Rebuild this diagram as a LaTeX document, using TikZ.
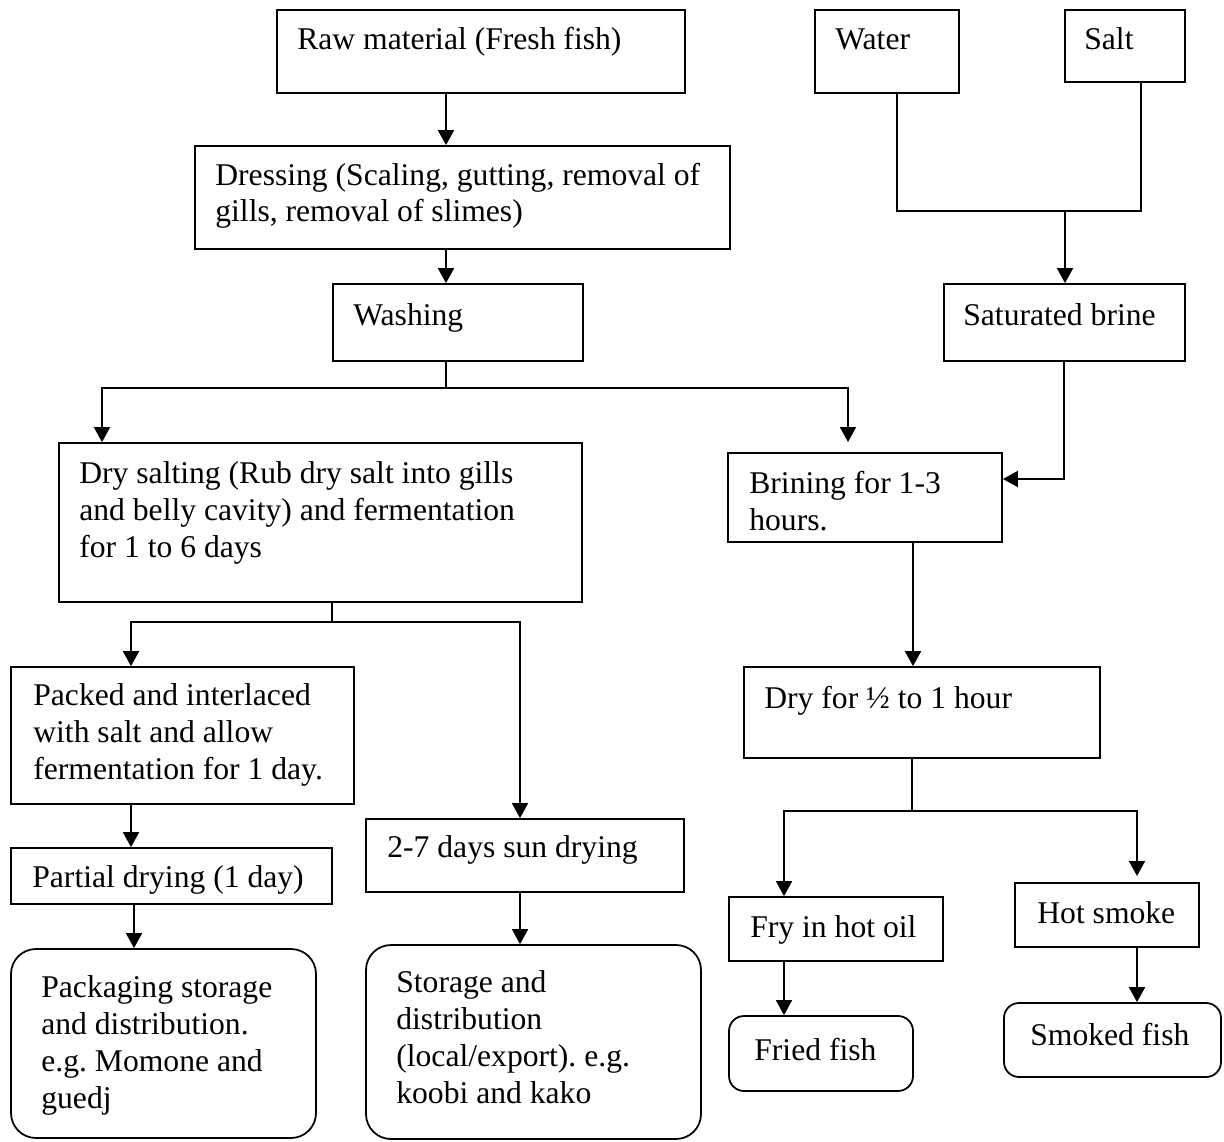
\documentclass[tikz,border=0pt]{standalone}
\usepackage{fontspec}
\setmainfont{Liberation Serif}
\frenchspacing
\usetikzlibrary{arrows.meta,fit}
\tikzset{
  stage/.style={draw, rectangle, line width=1pt, inner sep=0pt},
  product/.style={stage, rounded corners=0.5cm},
  productsm/.style={stage, rounded corners=0.3cm},
  txt/.style={anchor=base west, inner sep=0pt, align=left, font=\fontsize{18}{21}\selectfont},
  ln/.style={line width=1pt},
  arr/.style={line width=1pt, -{Triangle[width=0.32cm,length=0.3cm]}}
}
\begin{document}
\begin{tikzpicture}[x=0.02cm, y=-0.02cm]
    \useasboundingbox (0,0) rectangle (1224,1142);

    \node[stage, fit={(277,10) (685,93)}] (raw) {};
    \node[stage, fit={(815,10) (959,93)}] (water) {};
    \node[stage, fit={(1065,10) (1185,82)}] (salt) {};
    \node[stage, fit={(195,146) (730,249)}] (dress) {};
    \node[stage, fit={(333,284) (583,361)}] (wash) {};
    \node[stage, fit={(944,284) (1185,361)}] (brine) {};
    \node[stage, fit={(59,443) (582,602)}] (drysalt) {};
    \node[stage, fit={(728,453) (1002,542)}] (brining) {};
    \node[stage, fit={(11,667) (354,804)}] (packed) {};
    \node[stage, fit={(11,848) (332,904)}] (partial) {};
    \node[stage, fit={(366,819) (684,892)}] (sun) {};
    \node[stage, fit={(744,667) (1100,758)}] (dryfor) {};
    \node[stage, fit={(729,897) (943,961)}] (fry) {};
    \node[stage, fit={(1015,883) (1199,947)}] (smoke) {};
    \node[product, fit={(11,949) (316,1138)}] (pack) {};
    \node[product, fit={(366,945) (701,1139)}] (store) {};
    \node[productsm, fit={(729,1016) (913,1091)}] (fried) {};
    \node[productsm, fit={(1004,1003) (1221,1077)}] (smoked) {};

    \node[txt] (rawt) at (297,50) {Raw material (Fresh fish)};
    \node[txt] (watert) at (835,50) {Water};
    \node[txt] (saltt) at (1084,50) {Salt};
    \node[txt] (dresst) at (215,222) {Dressing (Scaling, gutting, removal of\\gills, removal of slimes)};
    \node[txt] (washt) at (353,325) {Washing};
    \node[txt] (brinet) at (963,325) {Saturated brine};
    \node[txt] (drysaltt) at (79,557) {Dry salting (Rub dry salt into gills\\and belly cavity) and fermentation\\for 1 to 6 days};
    \node[txt] (briningt) at (749,530) {Brining for 1-3\\hours.};
    \node[txt] (packedt) at (33,779) {Packed and interlaced\\with salt and allow\\fermentation for 1 day.};
    \node[txt] (partialt) at (32,887) {Partial drying (1 day)};
    \node[txt] (sunt) at (387,857) {2-7 days sun drying};
    \node[txt] (dryfort) at (764,708) {Dry for ½ to 1 hour};
    \node[txt] (fryt) at (750,937) {Fry in hot oil};
    \node[txt] (smoket) at (1037,923) {Hot smoke};
    \node[txt] (packt) at (41,1108) {Packaging storage\\and distribution.\\e.g. Momone and\\guedj};
    \node[txt] (storet) at (396,1103) {Storage and\\distribution\\(local/export). e.g.\\koobi and kako};
    \node[txt] (friedt) at (754,1060) {Fried fish};
    \node[txt] (smokedt) at (1030,1045) {Smoked fish};

    \coordinate (j1) at (446,388);
    \coordinate (j2) at (102,0);
    \coordinate (j3) at (848,442);
    \coordinate (j4) at (897,211);
    \coordinate (j5) at (1141,0);
    \coordinate (j6) at (1065,211);
    \coordinate (j7) at (1064,479);
    \coordinate (j8) at (913,0);
    \coordinate (j9) at (912,811);
    \coordinate (j10) at (784,0);
    \coordinate (j11) at (1137,876);
    \coordinate (j12) at (332,622);
    \coordinate (j13) at (131,0);
    \coordinate (j14) at (520,0);
    \coordinate (j15) at (134,0);

    \draw[arr] (raw.south -| j1) -- (dress.north -| j1);
    \draw[arr] (dress.south -| j1) -- (wash.north -| j1);
    \draw[ln] (wash.south -| j1) -- (j1);
    \draw[arr] (j1) -| (drysalt.north -| j2);
    \draw[arr] (j1) -| (j3);

    \draw[ln] (water.south -| j4) -- (j4) -- (j4 -| j5) -- (salt.south -| j5);
    \draw[arr] (j6) -- (brine.north -| j6);
    \draw[arr] (brine.south -| j7) |- (brining.east |- j7);
    \draw[arr] (brining.south -| j8) -- (dryfor.north -| j8);

    \draw[ln] (dryfor.south -| j9) -- (j9);
    \draw[arr] (j9) -| (fry.north -| j10);
    \draw[arr] (j9) -| (j11);
    \draw[arr] (fry.south -| j10) -- (fried.north -| j10);
    \draw[arr] (smoke.south -| j11) -- (smoked.north -| j11);

    \draw[ln] (drysalt.south -| j12) -- (j12);
    \draw[arr] (j12) -| (packed.north -| j13);
    \draw[arr] (j12) -| (sun.north -| j14);
    \draw[arr] (packed.south -| j13) -- (partial.north -| j13);
    \draw[arr] (partial.south -| j15) -- (pack.north -| j15);
    \draw[arr] (sun.south -| j14) -- (store.north -| j14);
\end{tikzpicture}
\end{document}
